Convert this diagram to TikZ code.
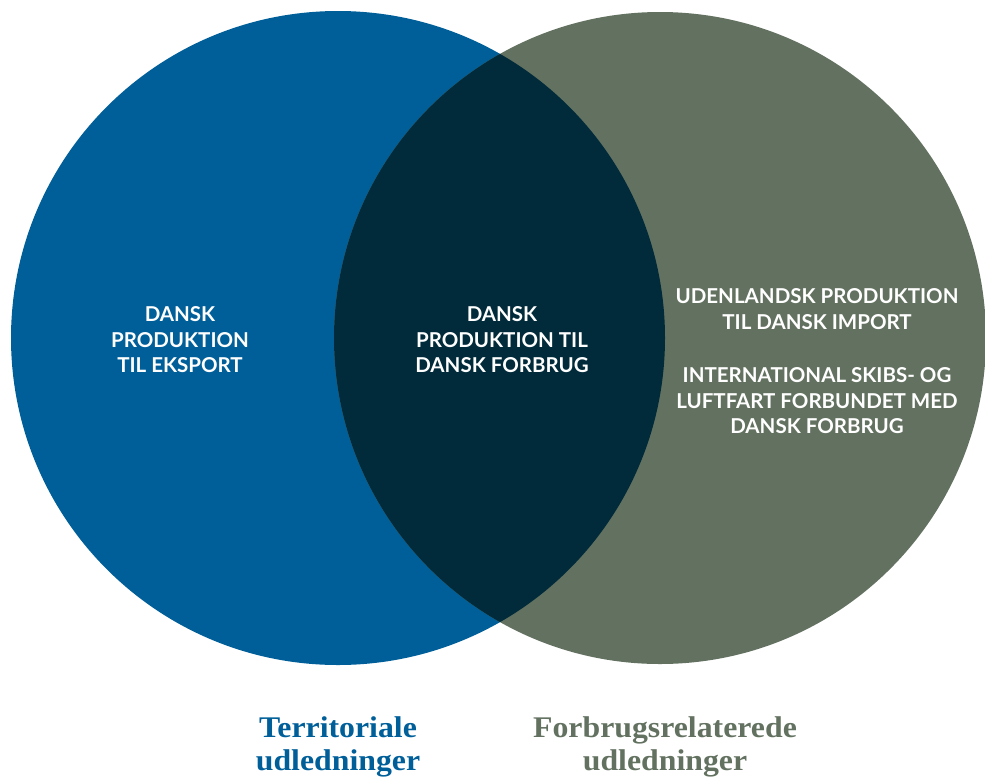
\documentclass[tikz,border=0pt]{standalone}
\usepackage{fontspec}
\setmainfont{Liberation Serif}
\newfontfamily\capsfont{Lato}
\newfontfamily\captionfont[FakeStretch=1.06]{Liberation Serif}
\definecolor{terrblue}{RGB}{0,95,153}
\definecolor{consgreen}{RGB}{99,114,96}
\definecolor{overlapdark}{RGB}{1,43,58}
\begin{document}
\begin{tikzpicture}[x=1pt,y=-1pt,
  circlelabel/.style={text=white, align=center, inner sep=0pt,
    font=\capsfont\bfseries\fontsize{20.5}{25.5}\selectfont},
  captionlabel/.style={align=center, inner sep=0pt,
    font=\captionfont\bfseries\fontsize{30}{33.5}\selectfont}]
\useasboundingbox (0,0) rectangle (985,780);

% the two sets
\fill[terrblue] (338,338) circle[radius=327pt];
\fill[consgreen] (660,338) circle[radius=326pt];
% their overlap
\begin{scope}
  \clip (338,338) circle[radius=327pt];
  \fill[overlapdark] (660,338) circle[radius=326pt];
\end{scope}

% set contents
\node[circlelabel] (export) at (180,340) {DANSK\\PRODUKTION\\TIL EKSPORT};
\node[circlelabel] (domestic) at (502,340) {DANSK\\PRODUKTION TIL\\DANSK FORBRUG};
\node[circlelabel] (imports) at (817,309) {UDENLANDSK PRODUKTION\\TIL DANSK IMPORT};
\node[circlelabel] (transport) at (817,401) {INTERNATIONAL SKIBS- OG\\LUFTFART FORBUNDET MED\\DANSK FORBRUG};

% set names
\node[captionlabel, text=terrblue] (territorial) at (338,747) {Territoriale\\udledninger};
\node[captionlabel, text=consgreen] (consumption) at (665,747) {Forbrugsrelaterede\\udledninger};
\end{tikzpicture}
\end{document}
